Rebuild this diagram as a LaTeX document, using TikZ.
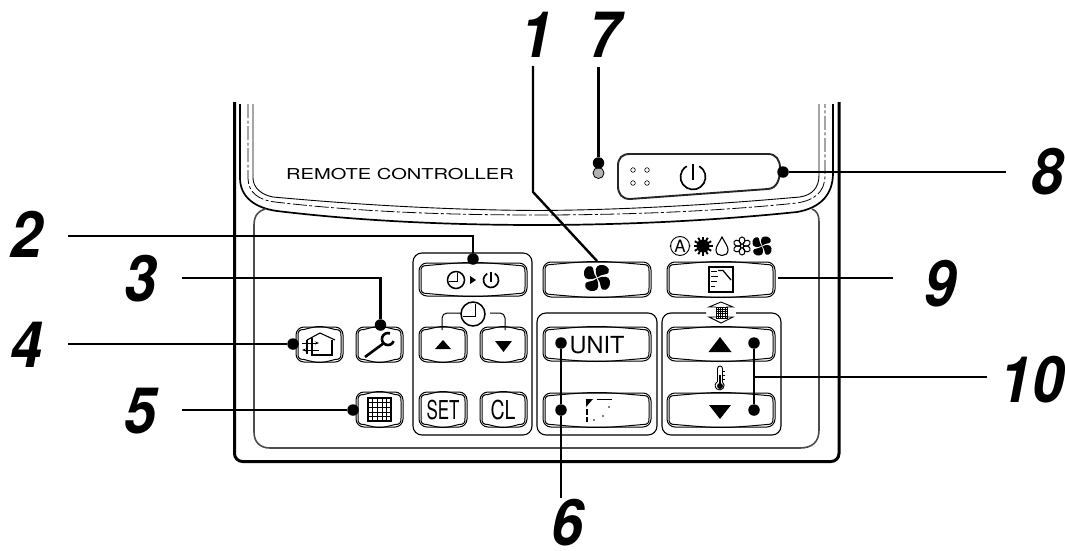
\documentclass[tikz,border=0pt]{standalone}
\usepackage{fontspec}
\setmainfont{TeX Gyre Heros}
\usetikzlibrary{positioning, arrows.meta}

\tikzset{
	hotspot/.style={circle, fill=black, inner sep=0pt, minimum size=11.5pt},
	leader/.style={line width=2.4pt},
	callout/.style={font=\fontsize{64}{64}\selectfont\bfseries\itshape, xscale=0.9, inner sep=0pt, outer xsep=28pt, outer ysep=9pt},
	groupbox/.style={line width=1.1pt, rounded corners=9pt},
	keyline/.style={line width=1pt}
}

% key outline, a rounded frame with a bowed line inside it
\newcommand{\keyshape}[4]{
	\draw[keyline, rounded corners=8pt] (#1,#2) rectangle (#3,#4);
	\draw[keyline] ({#1+8},{#2+2.5}) .. controls ({(#1+#3)/2},{#2-1.5}) .. ({#3-8},{#2+2.5})
		.. controls ({#3-3},{#2+2.5}) and ({#3-2},{#2+4}) .. ({#3-2},{#2+9}) -- ({#3-2},{#4-9})
		.. controls ({#3-2},{#4-4}) and ({#3-3},{#4-2.5}) .. ({#3-8},{#4-2.5})
		.. controls ({(#1+#3)/2},{#4+1.5}) .. ({#1+8},{#4-2.5})
		.. controls ({#1+3},{#4-2.5}) and ({#1+2},{#4-4}) .. ({#1+2},{#4-9}) -- ({#1+2},{#2+9})
		.. controls ({#1+2},{#2+4}) and ({#1+3},{#2+2.5}) .. ({#1+8},{#2+2.5}) -- cycle;
}
% clock face
\newcommand{\clockface}[3]{
	\draw[line width=1.5pt] (#1,#2) circle (#3);
	\draw[line width=1.5pt] ({#1+0.2*#3},{#2-0.85*#3}) -- ({#1+0.2*#3},{#2+0.2*#3}) -- ({#1-0.8*#3},{#2+0.2*#3});
}
% stand-by sign
\newcommand{\powersign}[3]{
	\draw[line width=1.7pt] ({#1+0.5*#3},{#2-0.866*#3}) arc[start angle=-60, end angle=240, radius=#3];
	\draw[line width=1.7pt] (#1,{#2-1.05*#3}) -- (#1,{#2+0.25*#3});
}
% fan with four blades
\newcommand{\fanblades}[3]{
	\foreach \ang in {0,90,180,270}{
		\fill[shift={(#1,#2)}, rotate=\ang, scale=#3]
			(0.02,-0.05) .. controls (-0.15,-0.4) and (-0.2,-0.95) .. (0.25,-1)
			.. controls (0.7,-1.05) and (1,-0.75) .. (0.9,-0.45)
			.. controls (0.8,-0.2) and (0.4,-0.35) .. (0.02,-0.05) -- cycle;
	}
}
% small square grid
\newcommand{\gridsquare}[5]{
	\foreach \k in {1,...,4}{
		\draw[line width=#5] ({#1+\k*#3/5},#2) -- ({#1+\k*#3/5},{#2+#3});
		\draw[line width=#5] (#1,{#2+\k*#3/5}) -- ({#1+#3},{#2+\k*#3/5});
	}
	\draw[line width=#4] (#1,#2) rectangle ({#1+#3},{#2+#3});
}

\begin{document}
\begin{tikzpicture}[x=1pt, y=-1pt]
	\useasboundingbox (0,0) rectangle (1065,551);

	% Controller body
	\draw[line width=3pt, rounded corners=8pt] (234.5,102) -- (234.5,461.5) -- (839,461.5) -- (839,102);

	% Front cover edge
	\draw[line width=1.7pt] (240,104) -- (240,178) .. controls (240,197) and (255,208) .. (277,211)
		.. controls (360,221) and (450,225) .. (537,225) .. controls (630,225) and (720,220) .. (797,212)
		.. controls (820,208) and (833,195) .. (833,173) -- (833,104);
	\draw[line width=0.8pt, dash pattern=on 14pt off 2.5pt on 3pt off 2.5pt] (248,104) -- (248,178)
		.. controls (248,192) and (258,200) .. (275,202)
		.. controls (360,212) and (450,215) .. (537,215) .. controls (630,215) and (720,211) .. (797,203)
		.. controls (815,200) and (825,192) .. (825,175) -- (825,104);
	\draw[line width=0.9pt] (253,104) -- (253,178) .. controls (253,188) and (262,195) .. (273,197)
		.. controls (360,205) and (450,210) .. (537,210.5) .. controls (630,210) and (720,204) .. (800,197)
		.. controls (812,195) and (819,188) .. (819,175) -- (819,104);

	% Key panel
	\draw[line width=1.6pt, draw=black!70] (254,225) .. controls (254,216) and (258,211) .. (265,209);
	\draw[line width=1.6pt, draw=black!70] (812,209) .. controls (817,211) and (819,215) .. (819,222)
		-- (819,430) .. controls (819,442) and (812,448) .. (800,448) -- (270,448)
		.. controls (260,448) and (254,442) .. (254,432) -- (254,225);

	% Key groups
	\draw[groupbox] (413,253) rectangle (532,435);
	\draw[groupbox] (537,313) rectangle (657,435);
	\draw[groupbox] (706,313) -- (662,313) -- (662,435) -- (781,435) -- (781,313) -- (736,313);

	% Power key
	\draw[line width=1.9pt, draw=black!85] (630,154) -- (768,154) .. controls (776,154) and (780,160) .. (780,168)
		.. controls (780,180) and (777,188) .. (768,189) -- (630,199) .. controls (622,199) and (618,194) .. (618,186)
		-- (618,166) .. controls (618,158) and (622,154) .. (630,154) -- cycle;
	\foreach \px in {633,647}{
		\foreach \py in {170,183}{
			\draw[line width=0.6pt] (\px,\py) circle (2.3);
		}
	}
	\powersign{693}{177}{12.5}

	% Indicator lamp
	\draw[line width=0.8pt, fill=black!30] (598.5,173) circle (5.5);

	% Keys
	\keyshape{419}{263}{527}{296}
	\keyshape{543}{262}{651}{297}
	\keyshape{667}{262}{775}{297}
	\keyshape{543}{327}{651}{361}
	\keyshape{543}{393}{651}{427}
	\keyshape{667}{327}{775}{361}
	\keyshape{667}{393}{775}{427}
	\keyshape{419}{327}{467}{362}
	\keyshape{480}{327}{527}{362}
	\keyshape{419}{392}{467}{427}
	\keyshape{480}{392}{527}{427}
	\keyshape{296}{327}{343}{362}
	\keyshape{356}{327}{403}{362}
	\keyshape{356}{392}{403}{427}

	% Timer key and clock bracket
	\clockface{456}{280}{8.5}
	\fill (470,276) -- (476,280) -- (470,284) -- cycle;
	\powersign{491}{280}{7.5}
	\clockface{473}{314}{12}
	\draw[line width=1pt, rounded corners=5pt] (461,313) -- (442,313) -- (442,330);
	\draw[line width=1pt, rounded corners=5pt] (490,313) -- (505,313) -- (505,330);
	\fill (443,340) -- (451,349) -- (435,349) -- cycle;
	\fill (495,341) -- (512,341) -- (503.5,352) -- cycle;

	% Key texts
	\node[font=\fontsize{26}{26}\selectfont, xscale=0.65] (settext) at (443,410) {SET};
	\node[font=\fontsize{26}{26}\selectfont, xscale=0.75] (cltext) at (503,410) {CL};
	\node[font=\fontsize{23.5}{23.5}\selectfont] (unittext) at (597,345) {UNIT};
	\node[font=\fontsize{15}{15}\selectfont, xscale=1.34] (brandtext) at (400,174.5) {REMOTE CONTROLLER};

	% Ventilation icon
	\draw[line width=1.1pt] (307,340) -- (320,333) -- (335,340);
	\draw[line width=1.1pt] (332,340) -- (332,355) -- (312,355) -- (312,338);
	\draw[line width=1.1pt] (307,340) -- (307,354);
	\draw[line width=1pt, -{Stealth[length=4pt]}] (302,343) -- (319,343);
	\draw[line width=1pt, {Stealth[length=4pt]}-] (302,350) -- (319,350);

	% Wrench icon
	\draw[line width=2.6pt] (365,357) -- (384,343);
	\draw[line width=2.6pt] (390,333.4) arc[start angle=-70, end angle=-340, radius=6];

	% Filter grid icon
	\gridsquare{368}{398}{23}{1.4pt}{0.5pt}

	% Fan key
	\fanblades{597}{278}{13}
	\fanblades{762}{246}{9.5}

	% Mode row
	\draw[line width=0.9pt] (680,246) circle (9.5);
	\fill (670.5,246) circle (1);
	\fill (689.5,246) circle (1);
	\node[font=\fontsize{17}{17}\selectfont, inner sep=0pt] (autotext) at (680,246) {A};
	\fill (703,246) circle (6.5);
	\foreach \ang in {0,30,...,330}{
		\draw[line width=1.9pt, shift={(703,246)}, rotate=\ang] (5,0) -- (9.5,0);
	}
	\draw[line width=1.1pt] (722,237) .. controls (719,243) and (716,246) .. (716,250)
		.. controls (716,254) and (719,255.5) .. (722,255.5) .. controls (725,255.5) and (728,254) .. (728,250)
		.. controls (728,246) and (725,243) .. (722,237) -- cycle;
	\foreach \ang in {30,90,...,330}{
		\draw[line width=1pt, shift={(742,246)}, rotate=\ang] (1.5,0) .. controls (3,-4) and (9,-3.5) .. (9,0) .. controls (9,3.5) and (3,4) .. (1.5,0) -- cycle;
	}

	% Swing icon on mode key
	\draw[line width=1.1pt] (709,267) rectangle (733,292);
	\draw[line width=1.3pt] (718,270.5) -- (723,270.5) -- (731,280);
	\draw[line width=0.8pt] (711,271) -- (717,271);
	\draw[line width=0.8pt] (711,276) -- (718,276);
	\draw[line width=0.8pt] (711,281) -- (717,281);
	\draw[line width=0.8pt] (711,286) -- (715,286);

	% Louver icon
	\fill (586,399) -- (593,399) -- (586,407) -- cycle;
	\draw[line width=1pt] (597,399) -- (612,399);
	\draw[line width=1.3pt, dash pattern=on 6pt off 2pt on 5pt off 9pt] (587,409) -- (587,423);
	\fill (594,420) circle (0.9);
	\fill (603,416) circle (0.9);
	\fill (609,407) circle (0.9);

	% Temperature keys
	\fill (720,337) -- (731.5,352) -- (708.5,352) -- cycle;
	\fill (709,405) -- (731,405) -- (720,419) -- cycle;
	\draw[line width=0.9pt] (717.5,382) -- (717.5,368.5) arc[start angle=180, end angle=360, radius=2.5] -- (722.5,382) arc[start angle=-50, end angle=230, radius=4.5];
	\fill (720,386) circle (3);
	\draw[line width=1.3pt] (720,375) -- (720,386);
	\foreach \ty in {371,375,379}{
		\draw[line width=0.5pt] (722.5,\ty) -- (725,\ty);
	}

	% Grid icon over temperature group
	\draw[line width=0.9pt] (716,307) -- (709,307) -- (721,302) -- (733,307) -- (726,307);
	\draw[line width=0.9pt] (716,317) -- (709,317) -- (721,323) -- (733,317) -- (726,317);
	\gridsquare{716}{307}{11}{0.7pt}{0.4pt}

	% Hot spots
	\node[hotspot] (spotone) at (598.5,163) {};
	\node[hotspot] (spottwo) at (473,259) {};
	\node[hotspot] (spotthree) at (380.5,325) {};
	\node[hotspot] (spotfour) at (293,344) {};
	\node[hotspot] (spotfive) at (353,410) {};
	\node[hotspot] (spotsixa) at (561,343) {};
	\node[hotspot] (spotsixb) at (561,410) {};
	\node[hotspot] (spoteight) at (783,172) {};
	\node[hotspot] (spottena) at (754,343) {};
	\node[hotspot] (spottenb) at (754,410) {};
	\coordinate (fankey) at (597,261);
	\coordinate (modekey) at (778,278);
	\coordinate (fanbend) at (533,192);
	\coordinate (tenjoin) at (754,377);
	\coordinate (bendtwo) at (473,236);
	\coordinate (bendthree) at (380.5,278);

	% Callouts
	\node[callout] (lblone) at (537,34.5) {1};
	\node[callout] (lblseven) at (605,35) {7};
	\node[callout] (lbleight) at (1047,172) {8};
	\node[callout] (lbltwo) at (26.5,234.5) {2};
	\node[callout] (lblthree) at (141,278.5) {3};
	\node[callout] (lblfour) at (27,345) {4};
	\node[callout] (lblfive) at (141,411) {5};
	\node[callout, outer ysep=2pt] (lblsix) at (568,523) {6};
	\node[callout, outer xsep=34pt] (lblnine) at (940,283.5) {9};
	\node[callout, outer xsep=14pt] (lblten) at (1032,379.5) {10};

	% Leader lines
	\draw[leader] (lblone.south -| fanbend) -- (fanbend) -- (fankey);
	\draw[leader] (lblseven.south -| spotone) -- (spotone);
	\draw[leader] (lbleight.west |- spoteight) -- (spoteight);
	\draw[leader] (lbltwo.east |- bendtwo) -- (bendtwo) -- (spottwo);
	\draw[leader] (lblthree.east |- bendthree) -- (bendthree) -- (spotthree);
	\draw[leader] (lblfour.east |- spotfour) -- (spotfour);
	\draw[leader] (lblfive.east |- spotfive) -- (spotfive);
	\draw[leader] (spotsixa) -- (spotsixb) -- (lblsix.north -| spotsixb);
	\draw[leader] (lblnine.west |- modekey) -- (modekey);
	\draw[leader] (spottena) -- (spottenb);
	\draw[leader] (lblten.west |- tenjoin) -- (tenjoin);
\end{tikzpicture}
\end{document}
